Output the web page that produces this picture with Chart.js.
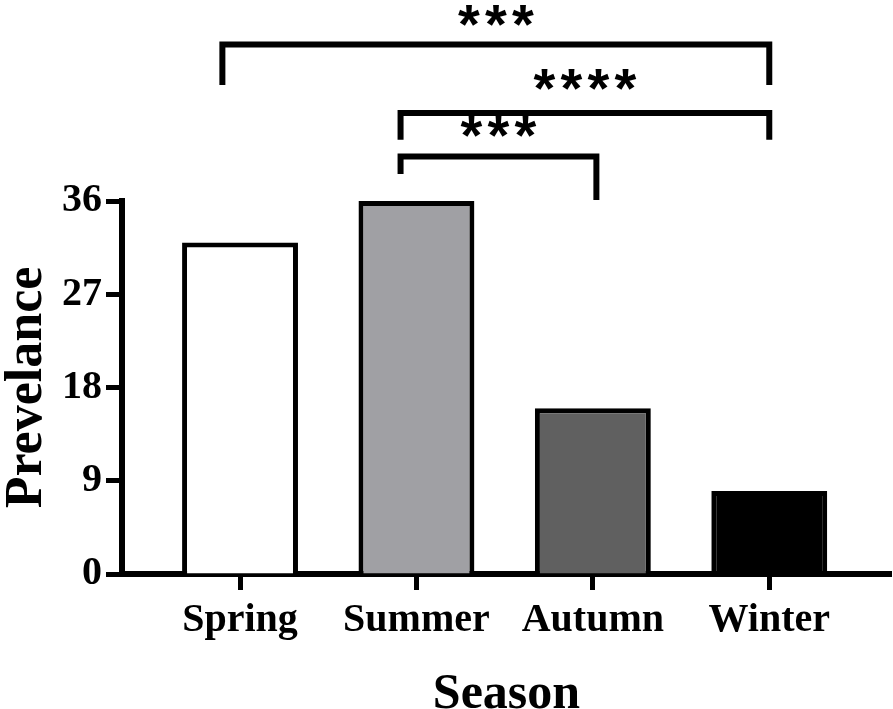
<!DOCTYPE html>
<html>
<head>
<meta charset="utf-8">
<script src="https://cdn.jsdelivr.net/npm/chart.js@4"></script>
<style>
  body { margin: 0; background: #fff; }
</style>
</head>
<body>
<canvas id="seasonChart" width="893" height="709"></canvas>
<script>
const seasons = ["Spring", "Summer", "Autumn", "Winter"];
const prevalence = [32, 36, 16, 8];
const barColors = ["#ffffff", "#a0a0a4", "#606060", "#000000"];
const yTicks = [0, 9, 18, 27, 36];

// significance brackets: x in category index, y in prevalence units
const bracketFrom = [-0.1, 0.91, 0.91];
const bracketTo = [3, 3, 2.02];
const bracketTop = [51.1, 44.5, 40.3];
const bracketLeftEnd = [47.2, 41.9, 38.6];
const bracketRightEnd = [47.2, 41.9, 36.1];
const bracketStars = ["***", "****", "***"];
const starLevel = [54.0, 47.8, 43.2];

const serif = '"Liberation Serif", "Times New Roman", serif';

const bracketPlugin = {
  id: "brackets",
  afterDraw(chart) {
    const { ctx } = chart;
    const x = chart.scales.x;
    const y = chart.scales.y;
    ctx.save();
    ctx.strokeStyle = "#000";
    ctx.lineWidth = 6;
    ctx.lineJoin = "miter";
    ctx.lineCap = "butt";
    bracketStars.forEach((stars, i) => {
      const x1 = x.getPixelForValue(bracketFrom[i]);
      const x2 = x.getPixelForValue(bracketTo[i]);
      const yTop = y.getPixelForValue(bracketTop[i]);
      ctx.beginPath();
      ctx.moveTo(x1, y.getPixelForValue(bracketLeftEnd[i]));
      ctx.lineTo(x1, yTop);
      ctx.lineTo(x2, yTop);
      ctx.lineTo(x2, y.getPixelForValue(bracketRightEnd[i]));
      ctx.stroke();

      // stars, centred on the bracket
      const size = 56;
      const step = 27;
      ctx.font = "bold " + size + 'px "Liberation Sans", Arial, sans-serif';
      ctx.fillStyle = "#000";
      ctx.textAlign = "center";
      ctx.textBaseline = "alphabetic";
      const mid = (x1 + x2) / 2;
      const yc = y.getPixelForValue(starLevel[i]) + 0.5 * size;
      for (let k = 0; k < stars.length; k++) {
        ctx.fillText("*", mid + (k - (stars.length - 1) / 2) * step, yc);
      }
    });
    ctx.restore();
  },
};

new Chart(document.getElementById("seasonChart"), {
  type: "bar",
  data: {
    datasets: [
      {
        data: seasons.map((s, i) => ({ x: i, y: prevalence[i] })),
        backgroundColor: barColors,
        borderColor: "#000",
        borderWidth: 5,
        barPercentage: 0.657,
        categoryPercentage: 1,
      },
    ],
  },
  options: {
    responsive: false,
    animation: false,
    layout: { padding: { top: 201, right: 2, left: 0, bottom: 0 } },
    plugins: { legend: { display: false }, tooltip: { enabled: false } },
    scales: {
      x: {
        type: "linear",
        offset: false,
        min: -0.669,
        max: 3.69,
        afterBuildTicks: (scale) => {
          scale.ticks = seasons.map((s, i) => ({ value: i }));
        },
        afterFit: (scale) => {
          scale.height = 135;
        },
        border: { display: true, color: "#000", width: 6 },
        grid: {
          offset: false,
          drawOnChartArea: false,
          drawTicks: true,
          tickLength: 16,
          tickWidth: 5,
          tickColor: "#000",
        },
        ticks: {
          autoSkip: false,
          maxRotation: 0,
          padding: 7,
          color: "#000",
          font: { family: serif, size: 40, weight: "bold" },
          callback: (v) => seasons[v],
        },
        title: {
          display: true,
          text: "Season",
          color: "#000",
          padding: { top: 0, bottom: -11 },
          font: { family: serif, size: 50, weight: "bold", lineHeight: 1 },
        },
      },
      y: {
        min: 0,
        max: 36,
        afterBuildTicks: (scale) => {
          scale.ticks = yTicks.map((v) => ({ value: v }));
        },
        afterFit: (scale) => {
          scale.width = 122;
        },
        border: { display: true, color: "#000", width: 6 },
        grid: {
          drawOnChartArea: false,
          drawTicks: true,
          tickLength: 16,
          tickWidth: 5,
          tickColor: "#000",
        },
        ticks: {
          padding: 4,
          color: "#000",
          font: { family: serif, size: 40, weight: "bold" },
        },
        title: {
          display: true,
          text: "Prevelance",
          color: "#000",
          padding: { top: 2, bottom: 0 },
          font: { family: serif, size: 52, weight: "bold", lineHeight: 1 },
        },
      },
    },
  },
  plugins: [bracketPlugin],
});
</script>
</body>
</html>
